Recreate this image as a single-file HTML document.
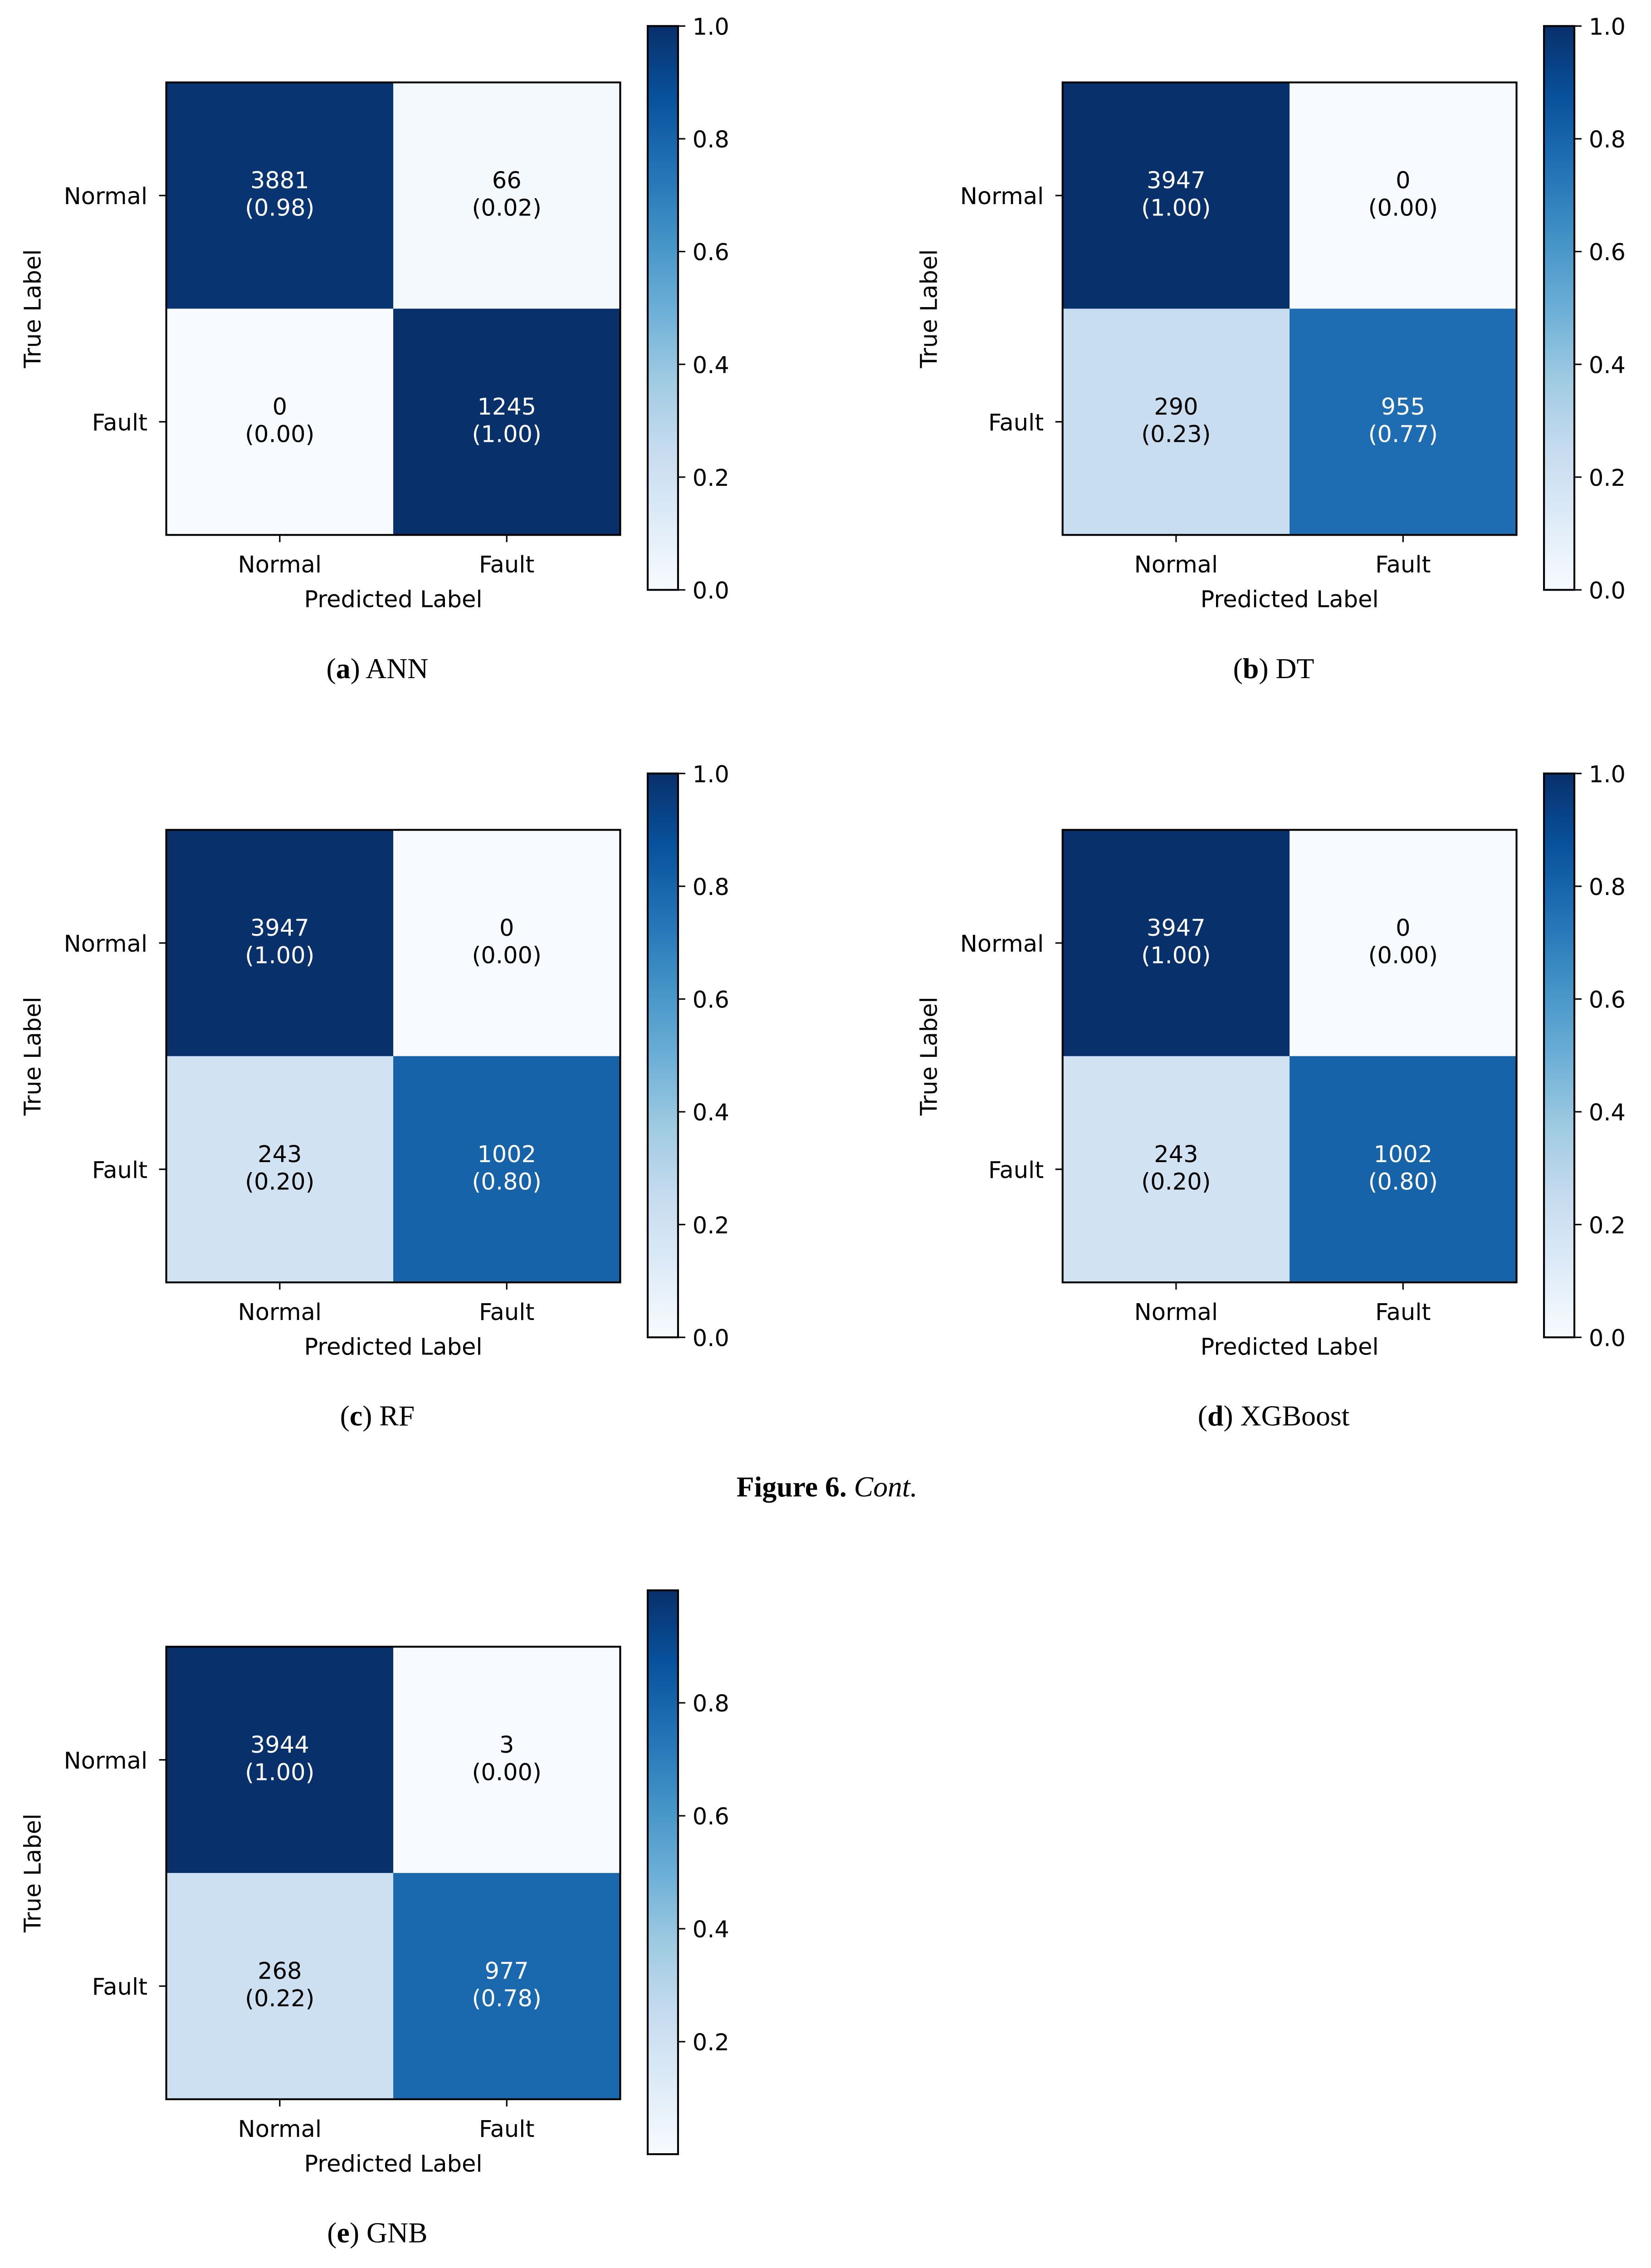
<!DOCTYPE html>
<html><head><meta charset="utf-8">
<style>html,body{margin:0;padding:0;background:#fff;overflow:hidden;}svg{display:block;}</style>
</head><body>
<svg id="fig" width="3640" height="5020" viewBox="0 0 1142 1575" xmlns="http://www.w3.org/2000/svg">
<defs>
<linearGradient id="blues" x1="0" y1="1" x2="0" y2="0">
<stop offset="0" stop-color="#f7fbff"/><stop offset="0.125" stop-color="#deebf7"/><stop offset="0.25" stop-color="#c6dbef"/><stop offset="0.375" stop-color="#9ecae1"/><stop offset="0.5" stop-color="#6baed6"/><stop offset="0.625" stop-color="#4292c6"/><stop offset="0.75" stop-color="#2171b5"/><stop offset="0.875" stop-color="#08519c"/><stop offset="1" stop-color="#08306b"/>
</linearGradient>
</defs>
<text x="572" y="1035" text-anchor="middle" font-family="Liberation Serif, serif" font-size="20"><tspan font-weight="bold">Figure 6.</tspan> <tspan font-style="italic">Cont.</tspan></text>
</svg>
<script>
const panelNames = ["ANN","DT","RF","XGBoost","GNB"];
const panelLetters = ["a","b","c","d","e"];
const counts = [
  [[3881,66],[0,1245]],
  [[3947,0],[290,955]],
  [[3947,0],[243,1002]],
  [[3947,0],[243,1002]],
  [[3944,3],[268,977]]
];
const classLabels = ["Normal","Fault"];
const cbTicks = [0,0.2,0.4,0.6,0.8,1.0];
const origins = [[0,0],[620,0],[0,517],[620,517],[0,1082]];

const stops = ["#f7fbff","#deebf7","#c6dbef","#9ecae1","#6baed6","#4292c6","#2171b5","#08519c","#08306b"];
function hex(c){return [1,3,5].map(i=>parseInt(c.substr(i,2),16));}
function blues(t){t=Math.max(0,Math.min(1,t));const p=t*8;let i=Math.floor(p);if(i>=8)i=7;const f=p-i;const a=hex(stops[i]),b=hex(stops[i+1]);return "rgb("+a.map((v,k)=>Math.round(v+(b[k]-v)*f)).join(",")+")";}
const NS="http://www.w3.org/2000/svg";
const svg=document.getElementById("fig");
function el(tag,attrs,parent,text){const e=document.createElementNS(NS,tag);for(const k in attrs)e.setAttribute(k,attrs[k]);if(text!==undefined)e.textContent=text;(parent||svg).appendChild(e);return e;}
const FONT="DejaVu Sans, Liberation Sans, sans-serif";

panelNames.forEach((name,p)=>{
  const [ox,oy]=origins[p];
  const g=el("g",{transform:"translate("+ox+","+oy+")"});
  
  
  const L=115,R=429,T=57,B=370,cw=(R-L)/2,ch=(B-T)/2;
  const m=counts[p];
  const norm=m.map(r=>{const s=r[0]+r[1];return r.map(v=>v/s);});
  const flat=norm.flat();
  const vmin=Math.min(...flat),vmax=Math.max(...flat);
  const sc=v=>(v-vmin)/(vmax-vmin);
  for(let i=0;i<2;i++)for(let j=0;j<2;j++){
    const t=sc(norm[i][j]);
    const r=el("rect",{x:L+j*cw,y:T+i*ch,width:cw+0.5,height:ch+0.5,fill:blues(t)},g);
    
    
    const col=t>0.5?"#fff":"#000";
    const cx=L+j*cw+cw/2,cy=T+i*ch+ch/2;
    const t1=el("text",{x:cx,y:cy-5,"text-anchor":"middle","font-family":FONT,"font-size":16,fill:col},g,String(m[i][j]));
    
    
    const t2=el("text",{x:cx,y:cy+14,"text-anchor":"middle","font-family":FONT,"font-size":16,fill:col},g,"("+norm[i][j].toFixed(2)+")");
    
    
  }
  const fr=el("rect",{x:L,y:T,width:R-L,height:B-T,fill:"none",stroke:"#000","stroke-width":1.3},g);
  
  
  classLabels.forEach((lab,k)=>{
    const y=T+k*ch+ch/2;
    el("line",{x1:L-5,x2:L,y1:y,y2:y,stroke:"#000","stroke-width":1},g);
    const yl=el("text",{x:L-13,y:y+6,"text-anchor":"end","font-family":FONT,"font-size":16},g,lab);
    
    
    const x=L+k*cw+cw/2;
    el("line",{x1:x,x2:x,y1:B,y2:B+5,stroke:"#000","stroke-width":1},g);
    const xl=el("text",{x:x,y:B+26,"text-anchor":"middle","font-family":FONT,"font-size":16},g,lab);
    
    
  });
  const xt=el("text",{x:(L+R)/2,y:B+50,"text-anchor":"middle","font-family":FONT,"font-size":16},g,"Predicted Label");
  
  
  const yt=el("text",{x:0,y:0,"text-anchor":"middle","font-family":FONT,"font-size":16,transform:"translate(28,"+((T+B)/2)+") rotate(-90)"},g,"True Label");
  
  
  const cbL=448,cbW=21,cbT=18,cbB=408;
  const cb=el("rect",{x:cbL,y:cbT,width:cbW,height:cbB-cbT,fill:"url(#blues)",stroke:"#000","stroke-width":1.3},g);
  
  
  cbTicks.forEach(v=>{
    if(v<vmin-1e-9||v>vmax+1e-9)return;
    const y=cbB-(v-vmin)/(vmax-vmin)*(cbB-cbT);
    el("line",{x1:cbL+cbW,x2:cbL+cbW+5,y1:y,y2:y,stroke:"#000","stroke-width":1},g);
    const tl=el("text",{x:cbL+cbW+10,y:y+6,"font-family":FONT,"font-size":16},g,v.toFixed(1));
    
    
  });
  const cap=el("text",{x:(L+R)/2-11,y:469,"text-anchor":"middle","font-family":"Liberation Serif, serif","font-size":20},g);
  
  
  el("tspan",{},cap,"(");
  el("tspan",{"font-weight":"bold"},cap,panelLetters[p]);
  el("tspan",{},cap,") "+name);
});
</script>
</body></html>
